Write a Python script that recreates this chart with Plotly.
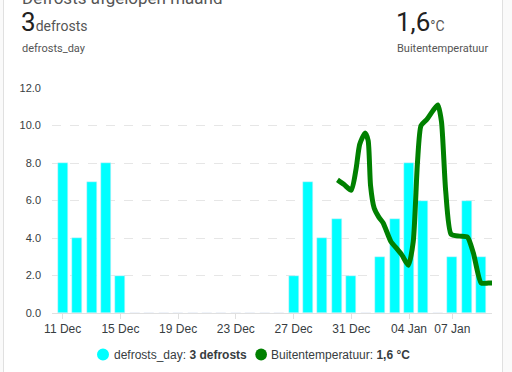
import plotly.graph_objects as go
import pandas as pd

# ---- data ----
bar_dates = pd.date_range("2023-12-11", "2024-01-09", freq="D").strftime("%Y-%m-%d").tolist()
defrosts = [8, 4, 7, 8, 2, 0, 0, 0, 0, 0, 0, 0, 0, 0, 0, 0,
            2, 7, 4, 5, 2, 0, 3, 5, 8, 6, 0, 3, 6, 3]

temp_times = ["2023-12-30 01:00", "2023-12-30 12:00", "2023-12-31 00:00", "2023-12-31 08:00",
              "2023-12-31 14:00", "2023-12-31 23:00", "2024-01-01 04:00", "2024-01-01 08:00",
              "2024-01-01 14:00", "2024-01-01 22:00", "2024-01-02 05:00", "2024-01-02 18:00",
              "2024-01-03 02:00", "2024-01-03 12:00", "2024-01-03 23:00", "2024-01-04 07:00",
              "2024-01-04 14:00", "2024-01-04 20:00", "2024-01-05 05:00", "2024-01-05 16:00",
              "2024-01-06 00:00", "2024-01-06 06:00", "2024-01-06 13:00", "2024-01-06 22:00",
              "2024-01-07 12:00", "2024-01-08 01:00", "2024-01-08 11:00", "2024-01-09 00:00",
              "2024-01-09 12:00", "2024-01-10 00:00"]
temps = [7.1, 6.85, 6.55, 7.7, 9.0, 9.6, 9.2, 6.8, 5.6, 5.1, 4.8, 3.8, 3.5, 3.1, 2.55, 3.8,
         8.0, 10.0, 10.3, 10.8, 11.1, 10.2, 6.5, 4.2, 4.1, 4.05, 3.2, 1.6, 1.6, 1.6]

tick_vals = ["2023-12-11", "2023-12-15", "2023-12-19", "2023-12-23", "2023-12-27",
             "2023-12-31", "2024-01-04", "2024-01-07"]
tick_text = ["11 Dec", "15 Dec", "19 Dec", "23 Dec", "27 Dec", "31 Dec", "04 Jan", "07 Jan"]

title = "Defrosts afgelopen maand"
state_1, unit_1, name_1 = "3", "defrosts", "defrosts_day"
state_2, unit_2, name_2 = "1,6", "°C", "Buitentemperatuur"

# ---- layout geometry ----
W, H = 512, 372
L, R, T, B = 52, 492, 87.7, 313.3


def px(x):
    return (x - L) / (R - L)


def py(y):
    return (B - y) / (B - T)


fig = go.Figure()
fig.add_trace(go.Bar(x=bar_dates, y=defrosts, marker_color="#00FFFF",
                     width=0.69 * 86400000, name="defrosts_day"))
fig.add_trace(go.Scatter(x=temp_times, y=temps, mode="lines",
                         line=dict(color="#008000", width=5, shape="spline", smoothing=0.6),
                         name="Buitentemperatuur"))

shapes = [
    dict(type="rect", xref="paper", yref="paper", x0=px(3.5), x1=px(502.5), y0=py(390), y1=py(-20),
         fillcolor="white", line=dict(color="#e0e0e0", width=1), layer="below"),
    dict(type="circle", xref="paper", yref="paper", x0=px(97), x1=px(109), y0=py(361), y1=py(349),
         fillcolor="#00FFFF", line=dict(width=0)),
    dict(type="circle", xref="paper", yref="paper", x0=px(255.3), x1=px(267), y0=py(361), y1=py(349),
         fillcolor="#008000", line=dict(width=0)),
]

hf = "Roboto"
cf = "Liberation Sans, Arial"
annotations = [
    dict(text=title, x=px(20), y=py(9), xanchor="left", yanchor="bottom",
         font=dict(family=hf, size=17, color="#555")),
    dict(text=f"{state_1}<span style='font-size:14px;color:#555'>{unit_1}</span>",
         x=px(19), y=py(39), xanchor="left", yanchor="bottom",
         font=dict(family=hf, size=26, color="#212121")),
    dict(text=name_1, x=px(20), y=py(48.3), xanchor="left", yanchor="middle",
         font=dict(family=hf, size=11, color="#555")),
    dict(text=f"{state_2}<span style='font-size:14px;color:#555'>{unit_2}</span>",
         x=px(394), y=py(39), xanchor="left", yanchor="bottom",
         font=dict(family=hf, size=26, color="#212121")),
    dict(text=name_2, x=px(395), y=py(48.3), xanchor="left", yanchor="middle",
         font=dict(family=hf, size=11, color="#555")),
    dict(text=f"defrosts_day: <b>{state_1} {unit_1}</b>", x=px(112), y=py(355),
         xanchor="left", yanchor="middle", font=dict(family=cf, size=12, color="#373d3f")),
    dict(text=f"Buitentemperatuur: <b>{state_2} {unit_2}</b>", x=px(269), y=py(355),
         xanchor="left", yanchor="middle", font=dict(family=cf, size=12, color="#373d3f")),
]
for a in annotations:
    a.update(xref="paper", yref="paper", showarrow=False)

fig.update_layout(
    width=W, height=H,
    margin=dict(l=L, r=W - R, t=T, b=H - B, pad=0),
    paper_bgcolor="#fafafa", plot_bgcolor="rgba(0,0,0,0)",
    showlegend=False, bargap=0,
    shapes=shapes, annotations=annotations,
    xaxis=dict(type="date", range=["2023-12-10 06:14", "2024-01-09 18:00"],
               tickvals=tick_vals, ticktext=tick_text,
               showgrid=False, showline=True, linecolor="#e0e0e0", linewidth=1,
               ticks="outside", ticklen=5, tickcolor="#e0e0e0",
               tickfont=dict(family=cf, size=12, color="#373d3f"), fixedrange=True),
    yaxis=dict(range=[0, 12], tickvals=[0, 2, 4, 6, 8, 10, 12], tickformat=".1f",
               showgrid=True, gridcolor="#e6e6e6", griddash="dash", gridwidth=1,
               zeroline=False, showline=False, ticks="", ticklabelstandoff=10,
               tickfont=dict(family=cf, size=11, color="#373d3f"), fixedrange=True),
)

fig.write_html("out.html", config={"displayModeBar": False},
               post_script="document.body.style.margin='0';document.body.style.overflow='hidden';")
